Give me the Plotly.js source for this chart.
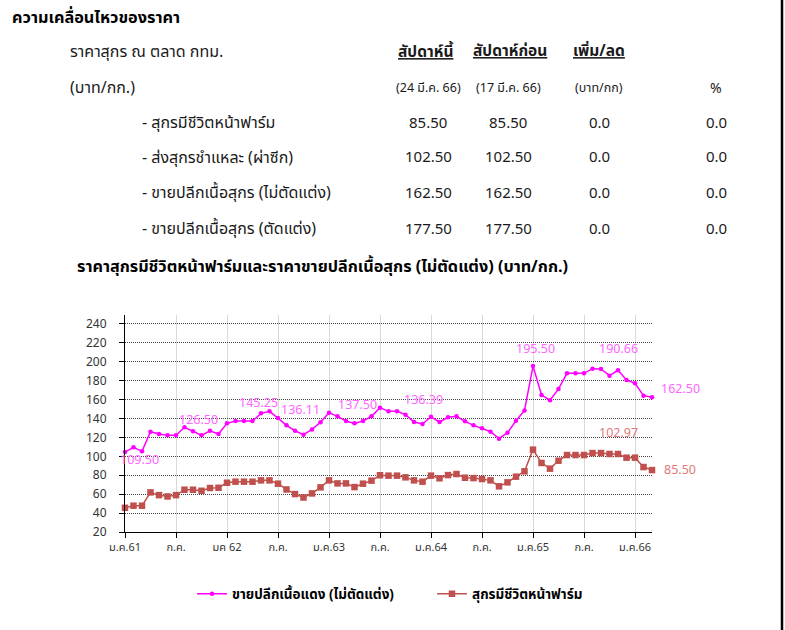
<!DOCTYPE html>
<html>
<head>
<meta charset="utf-8">
<script src="https://cdn.plot.ly/plotly-3.0.1.min.js"></script>
<style>
html,body{margin:0;padding:0;background:#fff;}
#chart{width:785px;height:630px;}
</style>
</head>
<body>
<div id="chart"></div>
<script>
// ---------- data ----------
const retailName = "ขายปลีกเนื้อแดง (ไม่ตัดแต่ง)";
const farmName = "สุกรมีชีวิตหน้าฟาร์ม";
const retailValues = [104.5,109.5,105.3,126.1,123.6,122.2,122.2,130.7,126.5,122.2,
  127.1,123.6,134.9,137.4,137.4,137.4,145.5,147.6,140.5,132.8,
  127.1,122.9,128.5,136.0,146.2,142.3,137.4,134.9,137.4,142.3,
  151.5,147.6,147.6,144.1,136.3,134.2,141.9,136.3,141.3,142.3,
  137.0,132.8,129.6,126.1,118.7,125.0,137.7,148.6,195.5,164.9,
  159.3,171.3,187.8,187.8,187.8,192.7,192.4,185.3,191.0,180.8,
  177.2,164.2,162.5];
const farmValues = [45.6,47.8,47.8,61.9,59.0,57.6,59.0,64.7,64.7,63.6,
  66.5,66.8,72.1,73.2,73.2,73.2,74.6,74.6,71.1,65.0,
  60.1,56.5,60.8,67.2,74.6,71.4,71.4,67.5,71.1,74.3,
  80.0,79.6,79.6,77.8,74.6,73.2,79.6,76.8,80.2,81.3,
  77.4,77.0,76.0,74.6,68.3,72.5,78.5,84.2,107.1,93.0,
  87.0,95.4,101.4,101.4,101.4,103.5,103.5,102.5,102.5,98.6,
  98.6,88.7,85.5];
const xTickLabels = ["ม.ค.61","ก.ค.","มค 62","ก.ค.","ม.ค.63","ก.ค.","ม.ค.64","ก.ค.","ม.ค.65","ก.ค.","ม.ค.66"];
const yTicks = [20,40,60,80,100,120,140,160,180,200,220,240];

// data labels shown on chart (text as printed)
const retailLabelText = ["109.50","126.50","145.25","136.11","137.50","136.39","195.50","190.66"];
const farmLabelText = ["102.97"];
const retailLastLabel = "162.50";
const farmLastLabel = "85.50";

// table
const pageTitle = "ความเคลื่อนไหวของราคา";
const tableHeadLeft = "ราคาสุกร ณ ตลาด กทม.";
const tableUnitLeft = "(บาท/กก.)";
const colHeads = ["สัปดาห์นี้","สัปดาห์ก่อน","เพิ่ม/ลด"];
const colSubHeads = ["(24 มี.ค. 66)","(17 มี.ค. 66)","(บาท/กก)","%"];
const rowLabels = ["- สุกรมีชีวิตหน้าฟาร์ม","- ส่งสุกรชำแหละ (ผ่าซีก)","- ขายปลีกเนื้อสุกร (ไม่ตัดแต่ง)","- ขายปลีกเนื้อสุกร (ตัดแต่ง)"];
const thisWeek = ["85.50","102.50","162.50","177.50"];
const lastWeek = ["85.50","102.50","162.50","177.50"];
const changeBaht = ["0.0","0.0","0.0","0.0"];
const changePct = ["0.0","0.0","0.0","0.0"];
const chartTitle = "ราคาสุกรมีชีวิตหน้าฟาร์มและราคาขายปลีกเนื้อสุกร (ไม่ตัดแต่ง) (บาท/กก.)";

// ---------- layout helpers ----------
const W = 785, H = 630;
const M = {l:125, r:133, t:315, b:98};
const PW = W - M.l - M.r, PH = H - M.t - M.b;
const px = x => (x - M.l) / PW;
const py = y => (H - M.b - y) / PH;
const FONT = "'Noto Sans Thai', 'Noto Sans', sans-serif";

const xIdx = retailValues.map((_, i) => i);
const tickVals = xTickLabels.map((_, i) => i * 6);
const lastI = retailValues.length - 1;

// label anchor positions (month index, value) – placement only
const retailLabelPos = [[1.65,95.1],[8.7,137.4],[15.76,155.4],[20.7,148.0],[27.3,154.3],[35.06,158.6],[48.35,213.5],[58.0,212.5]];
const farmLabelPos = [[58.0,124.7]];

const annotations = [];
retailLabelText.forEach((t, i) => annotations.push({
  x: retailLabelPos[i][0], y: retailLabelPos[i][1], xref:'x', yref:'y', text:t, showarrow:false,
  font:{family:FONT, size:12.5, color:'#ff66ff'}, xanchor:'center', yanchor:'middle'}));
farmLabelText.forEach((t, i) => annotations.push({
  x: farmLabelPos[i][0], y: farmLabelPos[i][1], xref:'x', yref:'y', text:t, showarrow:false,
  font:{family:FONT, size:12.5, color:'#e07a7a'}, xanchor:'center', yanchor:'middle'}));
// end-of-line labels anchored to the last points
annotations.push({x: lastI, y: retailValues[lastI], xref:'x', yref:'y', text: retailLastLabel, showarrow:false,
  xanchor:'left', yanchor:'middle', xshift: 7, yshift: 8, font:{family:FONT, size:12.5, color:'#ff66ff'}});
annotations.push({x: lastI, y: farmValues[lastI], xref:'x', yref:'y', text: farmLastLabel, showarrow:false,
  xanchor:'left', yanchor:'middle', xshift: 10, yshift: 0, font:{family:FONT, size:12.5, color:'#e07a7a'}});

function txt(x, y, t, opt) {
  opt = opt || {};
  annotations.push({x: px(x), y: py(y), xref:'paper', yref:'paper', text:t, showarrow:false,
    xanchor: opt.anchor || 'left', yanchor:'middle',
    font:{family:FONT, size: opt.size || 15, color: opt.color || '#1a1a1a', weight: opt.weight || 'normal'}});
}
txt(10, 18, pageTitle, {weight:'bold', size:16.3, color:'#000'});
txt(68, 52, tableHeadLeft, {size:16});
txt(68, 88, tableUnitLeft, {size:16});
const colX = [428, 508, 599, 716];
const headX = [426, 510, 599];
colHeads.forEach((t, i) => txt(headX[i], 52, '<span style="text-decoration:underline">' + t + '</span>', {anchor:'center', weight:'bold', size:15.5}));
colSubHeads.forEach((t, i) => txt(colX[i], 88, t, {anchor:'center', size: i < 3 ? 12.5 : 14}));
const rowY = [123, 158, 193, 229];
rowLabels.forEach((t, i) => {
  txt(140, rowY[i], t, {size:16});
  txt(colX[0], rowY[i], thisWeek[i], {anchor:'center'});
  txt(colX[1], rowY[i], lastWeek[i], {anchor:'center'});
  txt(colX[2], rowY[i], changeBaht[i], {anchor:'center'});
  txt(colX[3], rowY[i], changePct[i], {anchor:'center'});
});
txt(75, 267, chartTitle, {weight:'bold', size:16.2, color:'#000'});

const traces = [
  {x: xIdx, y: retailValues, name: retailName, type:'scatter', mode:'lines+markers',
   line:{color:'#ff00ff', width:1.5}, marker:{color:'#ff00ff', size:4.5, symbol:'circle'}, cliponaxis:false},
  {x: xIdx, y: farmValues, name: farmName, type:'scatter', mode:'lines+markers',
   line:{color:'#c0504d', width:1.5}, marker:{color:'#c0504d', size:6.5, symbol:'square'}, cliponaxis:false}
];

const layout = {
  width: W, height: H,
  margin: M,
  paper_bgcolor:'#fff', plot_bgcolor:'#fff',
  showlegend: true,
  legend: {orientation:'h', x: px(192), y: py(594), xanchor:'left', yanchor:'middle',
    font:{family:FONT, size:13.5, color:'#000', weight:'bold'}, entrywidth: 195, entrywidthmode:'pixels',
    bgcolor:'rgba(0,0,0,0)'},
  xaxis: {range:[0, 62], tickvals: tickVals, ticktext: xTickLabels, showline:true, linecolor:'#000', linewidth:1,
    ticks:'outside', ticklen:5, tickcolor:'#000', showgrid:true, gridcolor:'#d9d9d9', gridwidth:1, zeroline:false,
    tickfont:{family:FONT, size:11, color:'#333'}, fixedrange:true},
  yaxis: {range:[20, 249.5], tickvals: yTicks, showline:true, linecolor:'#000', linewidth:1,
    ticks:'outside', ticklen:5, tickcolor:'#000', showgrid:true, gridcolor:'#444', gridwidth:1, griddash:'1px,1px',
    zeroline:false, tickfont:{family:FONT, size:12, color:'#333'}, ticklabelstandoff: 10, fixedrange:true},
  annotations: annotations,
  shapes: [{type:'line', xref:'paper', yref:'paper', x0: px(782), x1: px(782), y0: py(0), y1: py(630),
    line:{color:'#000', width:2.5}}]
};

Plotly.newPlot('chart', traces, layout, {displayModeBar:false, staticPlot:true});
</script>
</body>
</html>
